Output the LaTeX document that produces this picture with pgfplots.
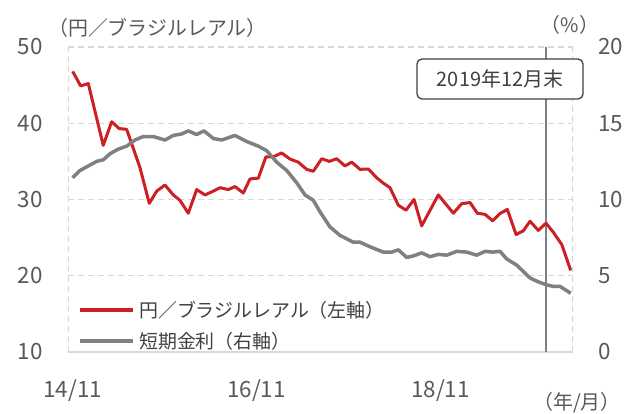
\documentclass[border=0pt]{standalone}
\usepackage{fontspec}
\setmainfont{Noto Sans CJK JP}
\usepackage{pgfplots}
\pgfplotsset{compat=1.18}
\definecolor{redl}{RGB}{204,32,36}
\definecolor{grayl}{RGB}{128,128,128}
\definecolor{gridc}{RGB}{217,217,217}
\definecolor{txt}{RGB}{89,89,89}
\definecolor{dtxt}{RGB}{64,64,64}
\begin{document}
\begin{tikzpicture}
\useasboundingbox (-68bp,-62bp) rectangle (574bp,352bp);
\pgfplotsset{common/.style={scale only axis, width=505bp, height=305bp,
  xmin=-0.61, xmax=65.31, axis line style={draw=none}, major tick length=0pt,
  /pgf/number format/assume math mode=true,
  tick label style={font=\fontsize{22.5}{26}\selectfont, text=txt, inner sep=0pt}}}
\begin{axis}[common, ymin=10, ymax=50, ytick={10,20,30,40,50},
  xtick={0,24,48}, xticklabels={14/11,16/11,18/11},
  ymajorgrids, grid style={gridc, dash pattern=on 6bp off 4bp, line width=1.3bp},
  yticklabel style={anchor=east, xshift=-25bp},
  xticklabel style={anchor=base, yshift=-45bp}]
\draw[gridc, dash pattern=on 6bp off 4bp, line width=1.3bp] (rel axis cs:0,0) -- (rel axis cs:0,1);
\draw[gridc, dash pattern=on 6bp off 4bp, line width=1.3bp] (rel axis cs:1,0) -- (rel axis cs:1,1);
\draw[gridc, line width=1.3bp] (rel axis cs:0,0) -- (rel axis cs:1,0);
\draw[gridc, line width=1.3bp] (axis cs:24,10) -- ++(0,5bp);
\draw[gridc, line width=1.3bp] (axis cs:48,10) -- ++(0,5bp);
\draw[grayl, line width=1.6bp] (axis cs:61.79,10) -- (axis cs:61.79,50);
\addplot[redl, line width=3bp, line join=round] coordinates {
(0,46.8) (1.04,44.9) (2.04,45.2) (3.99,37.1) (5.09,40.2) (6.08,39.3) (7.05,39.2)
(8.78,34.2) (10.0,29.5) (10.97,31.1) (12.05,31.9) (13.13,30.6) (14.0,29.9)
(15.09,28.2) (16.19,31.3) (17.27,30.6) (18.36,31.1) (19.23,31.55) (20.31,31.3)
(21.19,31.7) (22.27,30.85) (23.15,32.7) (24.23,32.8) (25.23,35.6) (26.19,35.6)
(27.28,36.1) (28.37,35.3) (29.45,34.9) (30.55,33.95) (31.41,33.7) (32.51,35.35)
(33.5,35.0) (34.46,35.35) (35.55,34.4) (36.42,34.9) (37.51,33.95) (38.59,34.0)
(39.69,32.85) (40.55,32.15) (41.42,31.55) (42.51,29.25) (43.51,28.6) (44.56,30.0)
(45.56,26.55) (47.73,30.6) (49.69,28.2) (50.78,29.45) (51.87,29.6) (52.82,28.2)
(53.83,28.05) (54.83,27.2) (55.78,28.15) (56.74,28.7) (57.88,25.4) (58.83,25.9)
(59.7,27.15) (60.78,25.95) (61.79,26.9) (62.74,25.7) (63.84,24.1) (65.01,20.7)
};
\end{axis}
\begin{axis}[common, ymin=0, ymax=20, ytick={0,5,10,15,20},
  axis y line*=right, axis x line=none,
  yticklabel style={anchor=west, xshift=25bp},
  legend style={at={(0.0198,0.167)}, anchor=north west, draw=none, fill=none,
    font=\fontsize{19}{22}\selectfont, text=dtxt, inner sep=0pt, row sep=13bp,
    column sep=4bp, nodes={inner sep=0pt}},
  legend cell align=left,
  legend image code/.code={\draw[#1] (0bp,0bp) -- (53bp,0bp);}]
\addlegendimage{redl, line width=3.5bp}
\addlegendentry{円／ブラジルレアル（左軸）}
\addplot[grayl, line width=3.5bp, line join=round, forget plot] coordinates {
(0,11.43) (0.95,11.9) (2.04,12.2) (3.13,12.5) (3.99,12.6) (4.87,13.0) (5.95,13.3)
(7.05,13.5) (8.13,13.9) (9.22,14.13) (10.52,14.13) (12.05,13.9) (13.13,14.2)
(14.23,14.3) (15.09,14.5) (16.19,14.26) (17.14,14.5) (18.36,14.0) (19.45,13.9)
(21.19,14.2) (22.72,13.8) (24.23,13.5) (25.33,13.2) (26.63,12.45) (27.94,11.9)
(29.24,11.1) (30.33,10.3) (31.41,9.95) (32.28,9.2) (33.59,8.2) (34.89,7.65)
(36.63,7.2) (37.5,7.2) (38.81,6.9) (40.55,6.55) (41.64,6.55) (42.51,6.7)
(43.6,6.2) (44.46,6.3) (45.56,6.5) (46.64,6.25) (47.73,6.4) (48.83,6.35)
(50.13,6.6) (51.44,6.55) (52.74,6.35) (53.83,6.6) (54.83,6.55) (55.78,6.6)
(56.66,6.1) (57.96,5.7) (59.7,4.85) (60.78,4.6) (61.88,4.4) (62.74,4.3)
(63.62,4.3) (65.01,3.85)
};
\addlegendimage{grayl, line width=4bp}
\addlegendentry{短期金利（右軸）}
\end{axis}
\node[draw=dtxt, line width=1.3bp, rounded corners=5bp, fill=white,
  minimum width=166bp, minimum height=40bp, inner sep=0pt, text=dtxt,
  font=\fontsize{20}{24}\selectfont] at (432bp,273bp) {2019年12月末};
\node[anchor=west, text=txt, inner sep=0pt, font=\fontsize{20}{23}\selectfont]
  at (-20bp,324bp) {（円／ブラジルレアル）};
\node[text=txt, inner sep=0pt, font=\fontsize{20}{23}\selectfont]
  at (502bp,327bp) {（\%）};
\node[text=txt, inner sep=0pt, font=\fontsize{20}{23}\selectfont]
  at (509bp,-51bp) {（年/月）};
\end{tikzpicture}
\end{document}
